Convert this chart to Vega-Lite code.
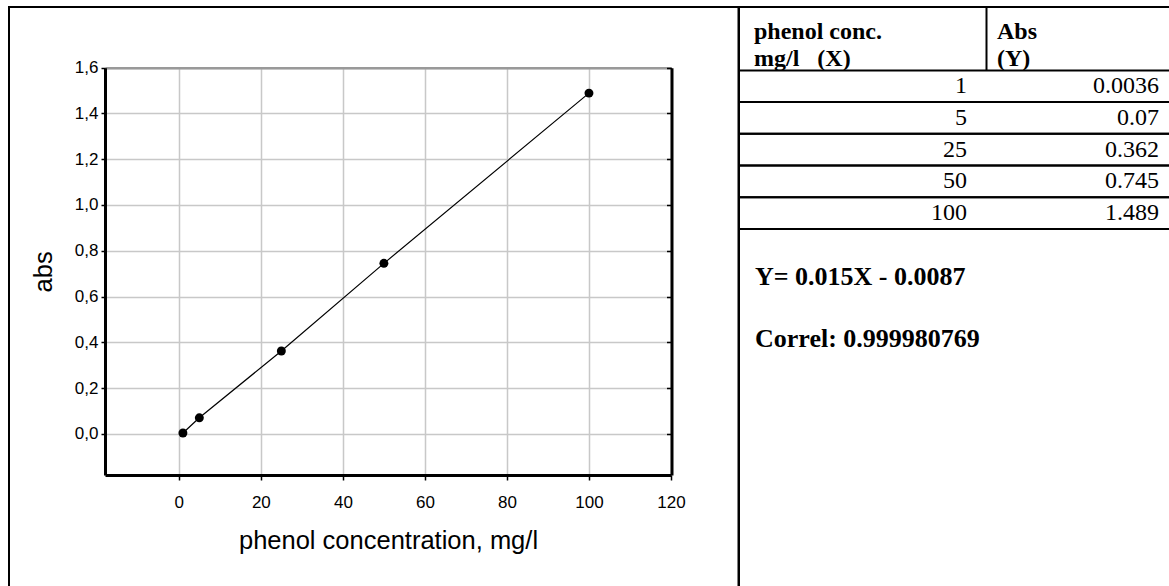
{
  "$schema": "https://vega.github.io/schema/vega-lite/v6.json",
  "background": "white",
  "padding": {"left": 8, "top": 6, "right": 0, "bottom": 0},
  "spacing": 0,
  "bounds": "flush",
  "datasets": {
    "phenol": [
      {"conc": 1, "abs": 0.0036},
      {"conc": 5, "abs": 0.07},
      {"conc": 25, "abs": 0.362},
      {"conc": 50, "abs": 0.745},
      {"conc": 100, "abs": 1.489}
    ],
    "header": [
      {"part": "header", "conc": "phenol conc.\nmg/l\u00a0\u00a0\u00a0(X)", "abs": "Abs\n(Y)"}
    ],
    "notes": [
      {"note": "Y= 0.015X - 0.0087"},
      {"note": "Correl: 0.999980769"}
    ]
  },
  "config": {
    "view": {"stroke": "black", "strokeWidth": 2},
    "axis": {
      "labelFont": "Liberation Sans",
      "titleFont": "Liberation Sans",
      "labelColor": "black",
      "titleColor": "black",
      "titleFontWeight": "normal",
      "labelFlush": false,
      "labelOverlap": false,
      "labelBound": false
    }
  },
  "hconcat": [
    {
      "width": 729.5,
      "height": 600,
      "data": {"name": "phenol"},
      "layer": [
        {
          "mark": {"type": "line", "color": "black", "strokeWidth": 1.2},
          "encoding": {
            "x": {
              "field": "conc", "type": "quantitative",
              "scale": {"domain": [-18, 120], "range": [96, 662], "nice": false, "zero": false},
              "axis": {
                "orient": "bottom", "offset": -132,
                "values": [0, 20, 40, 60, 80, 100, 120],
                "grid": false,
                "domainColor": "black", "domainWidth": 3,
                "tickColor": "black", "tickSize": 5, "tickWidth": 1.5,
                "labelFontSize": 17, "labelPadding": 14,
                "title": "phenol concentration, mg/l",
                "titleFontSize": 25.5, "titlePadding": 18
              }
            },
            "y": {
              "field": "abs", "type": "quantitative",
              "scale": {"domain": [-0.18, 1.6], "range": [468, 60.7], "nice": false, "zero": false},
              "axis": {
                "orient": "left", "offset": -96,
                "values": [0, 0.2, 0.4, 0.6, 0.8, 1, 1.2, 1.4, 1.6],
                "labelExpr": "replace(format(datum.value, '.1f'), '.', ',')",
                "grid": true, "gridColor": "#c8c8c8", "gridWidth": 1.5,
                "domainColor": "black", "domainWidth": 3,
                "tickColor": "black", "tickSize": 4, "tickWidth": 1.5,
                "labelFontSize": 17, "labelPadding": 3,
                "title": "abs",
                "titleFontSize": 25.5, "titlePadding": 18
              }
            }
          }
        },
        {
          "mark": {"type": "point", "filled": true, "color": "black", "opacity": 1, "size": 80},
          "encoding": {
            "x": {
              "field": "conc", "type": "quantitative",
              "scale": {"domain": [-18, 120], "range": [96, 662], "nice": false, "zero": false},
              "axis": {
                "orient": "top", "offset": -60.7,
                "values": [0, 20, 40, 60, 80, 100, 120],
                "grid": true, "gridColor": "#c8c8c8", "gridWidth": 1.5,
                "domainColor": "#999999", "domainWidth": 2.5,
                "ticks": false, "labels": false, "title": null
              }
            },
            "y": {
              "field": "abs", "type": "quantitative",
              "scale": {"domain": [-0.18, 1.6], "range": [468, 60.7], "nice": false, "zero": false},
              "axis": {
                "orient": "right", "offset": -67,
                "values": [0, 0.2, 0.4, 0.6, 0.8, 1, 1.2, 1.4, 1.6],
                "grid": false,
                "domainColor": "black", "domainWidth": 3,
                "tickColor": "black", "tickSize": -5, "tickWidth": 1.5,
                "labels": false, "title": null
              }
            }
          }
        }
      ],
      "resolve": {"axis": {"x": "independent", "y": "independent"}}
    },
    {
      "width": 440,
      "height": 600,
      "layer": [
        {
          "data": {"name": "header"},
          "transform": [{"fold": ["conc", "abs"], "as": ["col", "value"]}],
          "mark": {
            "type": "text", "align": "left", "baseline": "alphabetic",
            "lineBreak": "\n", "lineHeight": 27,
            "font": "Liberation Serif", "fontWeight": "bold", "fontSize": 24, "color": "black"
          },
          "encoding": {
            "x": {
              "field": "col", "type": "nominal",
              "scale": {"type": "point", "domain": ["conc", "abs"], "range": [15, 258], "padding": 0},
              "axis": null
            },
            "y": {
              "field": "part", "type": "nominal", "bandPosition": 0.5,
              "scale": {"type": "band", "domain": ["header"], "range": [0, 63.4], "paddingInner": 0, "paddingOuter": 0},
              "axis": {
                "orient": "left", "offset": -247,
                "domain": true, "domainColor": "black", "domainWidth": 2,
                "ticks": false, "labels": false, "grid": false, "title": null
              }
            },
            "text": {"field": "value", "type": "nominal"}
          }
        },
        {
          "data": {"name": "phenol"},
          "layer": [
            {
              "transform": [{"fold": ["conc", "abs"], "as": ["col", "value"]}],
              "mark": {
                "type": "text", "align": "right", "baseline": "middle",
                "font": "Liberation Serif", "fontSize": 24, "color": "black"
              },
              "encoding": {
                "x": {
                  "field": "col", "type": "nominal",
                  "scale": {"type": "point", "domain": ["conc", "abs"], "range": [228, 420], "padding": 0},
                  "axis": null
                },
                "y": {
                  "field": "conc", "type": "ordinal",
                  "scale": {"type": "band", "domain": [1, 5, 25, 50, 100], "range": [63.4, 222], "paddingInner": 0, "paddingOuter": 0},
                  "axis": {
                    "orient": "right", "offset": -193,
                    "domain": true, "domainColor": "black", "domainWidth": 2,
                    "ticks": false, "labels": false, "grid": false, "title": null
                  }
                },
                "text": {"field": "value", "type": "quantitative"}
              }
            },
            {
              "mark": {"type": "rule", "color": "black", "strokeWidth": 2},
              "encoding": {
                "y": {
                  "field": "conc", "type": "ordinal", "bandPosition": 0,
                  "scale": {"type": "band", "domain": [1, 5, 25, 50, 100], "range": [63.4, 222], "paddingInner": 0, "paddingOuter": 0},
                  "axis": null
                }
              }
            },
            {
              "mark": {"type": "rule", "color": "black", "strokeWidth": 2},
              "encoding": {
                "y": {
                  "field": "conc", "type": "ordinal", "bandPosition": 1,
                  "scale": {"type": "band", "domain": [1, 5, 25, 50, 100], "range": [63.4, 222], "paddingInner": 0, "paddingOuter": 0},
                  "axis": null
                }
              }
            }
          ]
        },
        {
          "data": {"name": "notes"},
          "mark": {
            "type": "text", "align": "left", "baseline": "middle",
            "font": "Liberation Serif", "fontWeight": "bold", "fontSize": 26, "color": "black"
          },
          "encoding": {
            "x": {
              "field": "note", "type": "nominal",
              "scale": {"type": "point", "range": [16, 16], "padding": 0},
              "axis": null
            },
            "y": {
              "field": "note", "type": "nominal", "sort": null,
              "scale": {"type": "point", "domain": ["Y= 0.015X - 0.0087", "Correl: 0.999980769"], "range": [270, 332], "padding": 0},
              "axis": null
            },
            "text": {"field": "note", "type": "nominal"}
          }
        }
      ],
      "resolve": {
        "scale": {"x": "independent", "y": "independent"},
        "axis": {"x": "independent", "y": "independent"}
      }
    }
  ]
}
